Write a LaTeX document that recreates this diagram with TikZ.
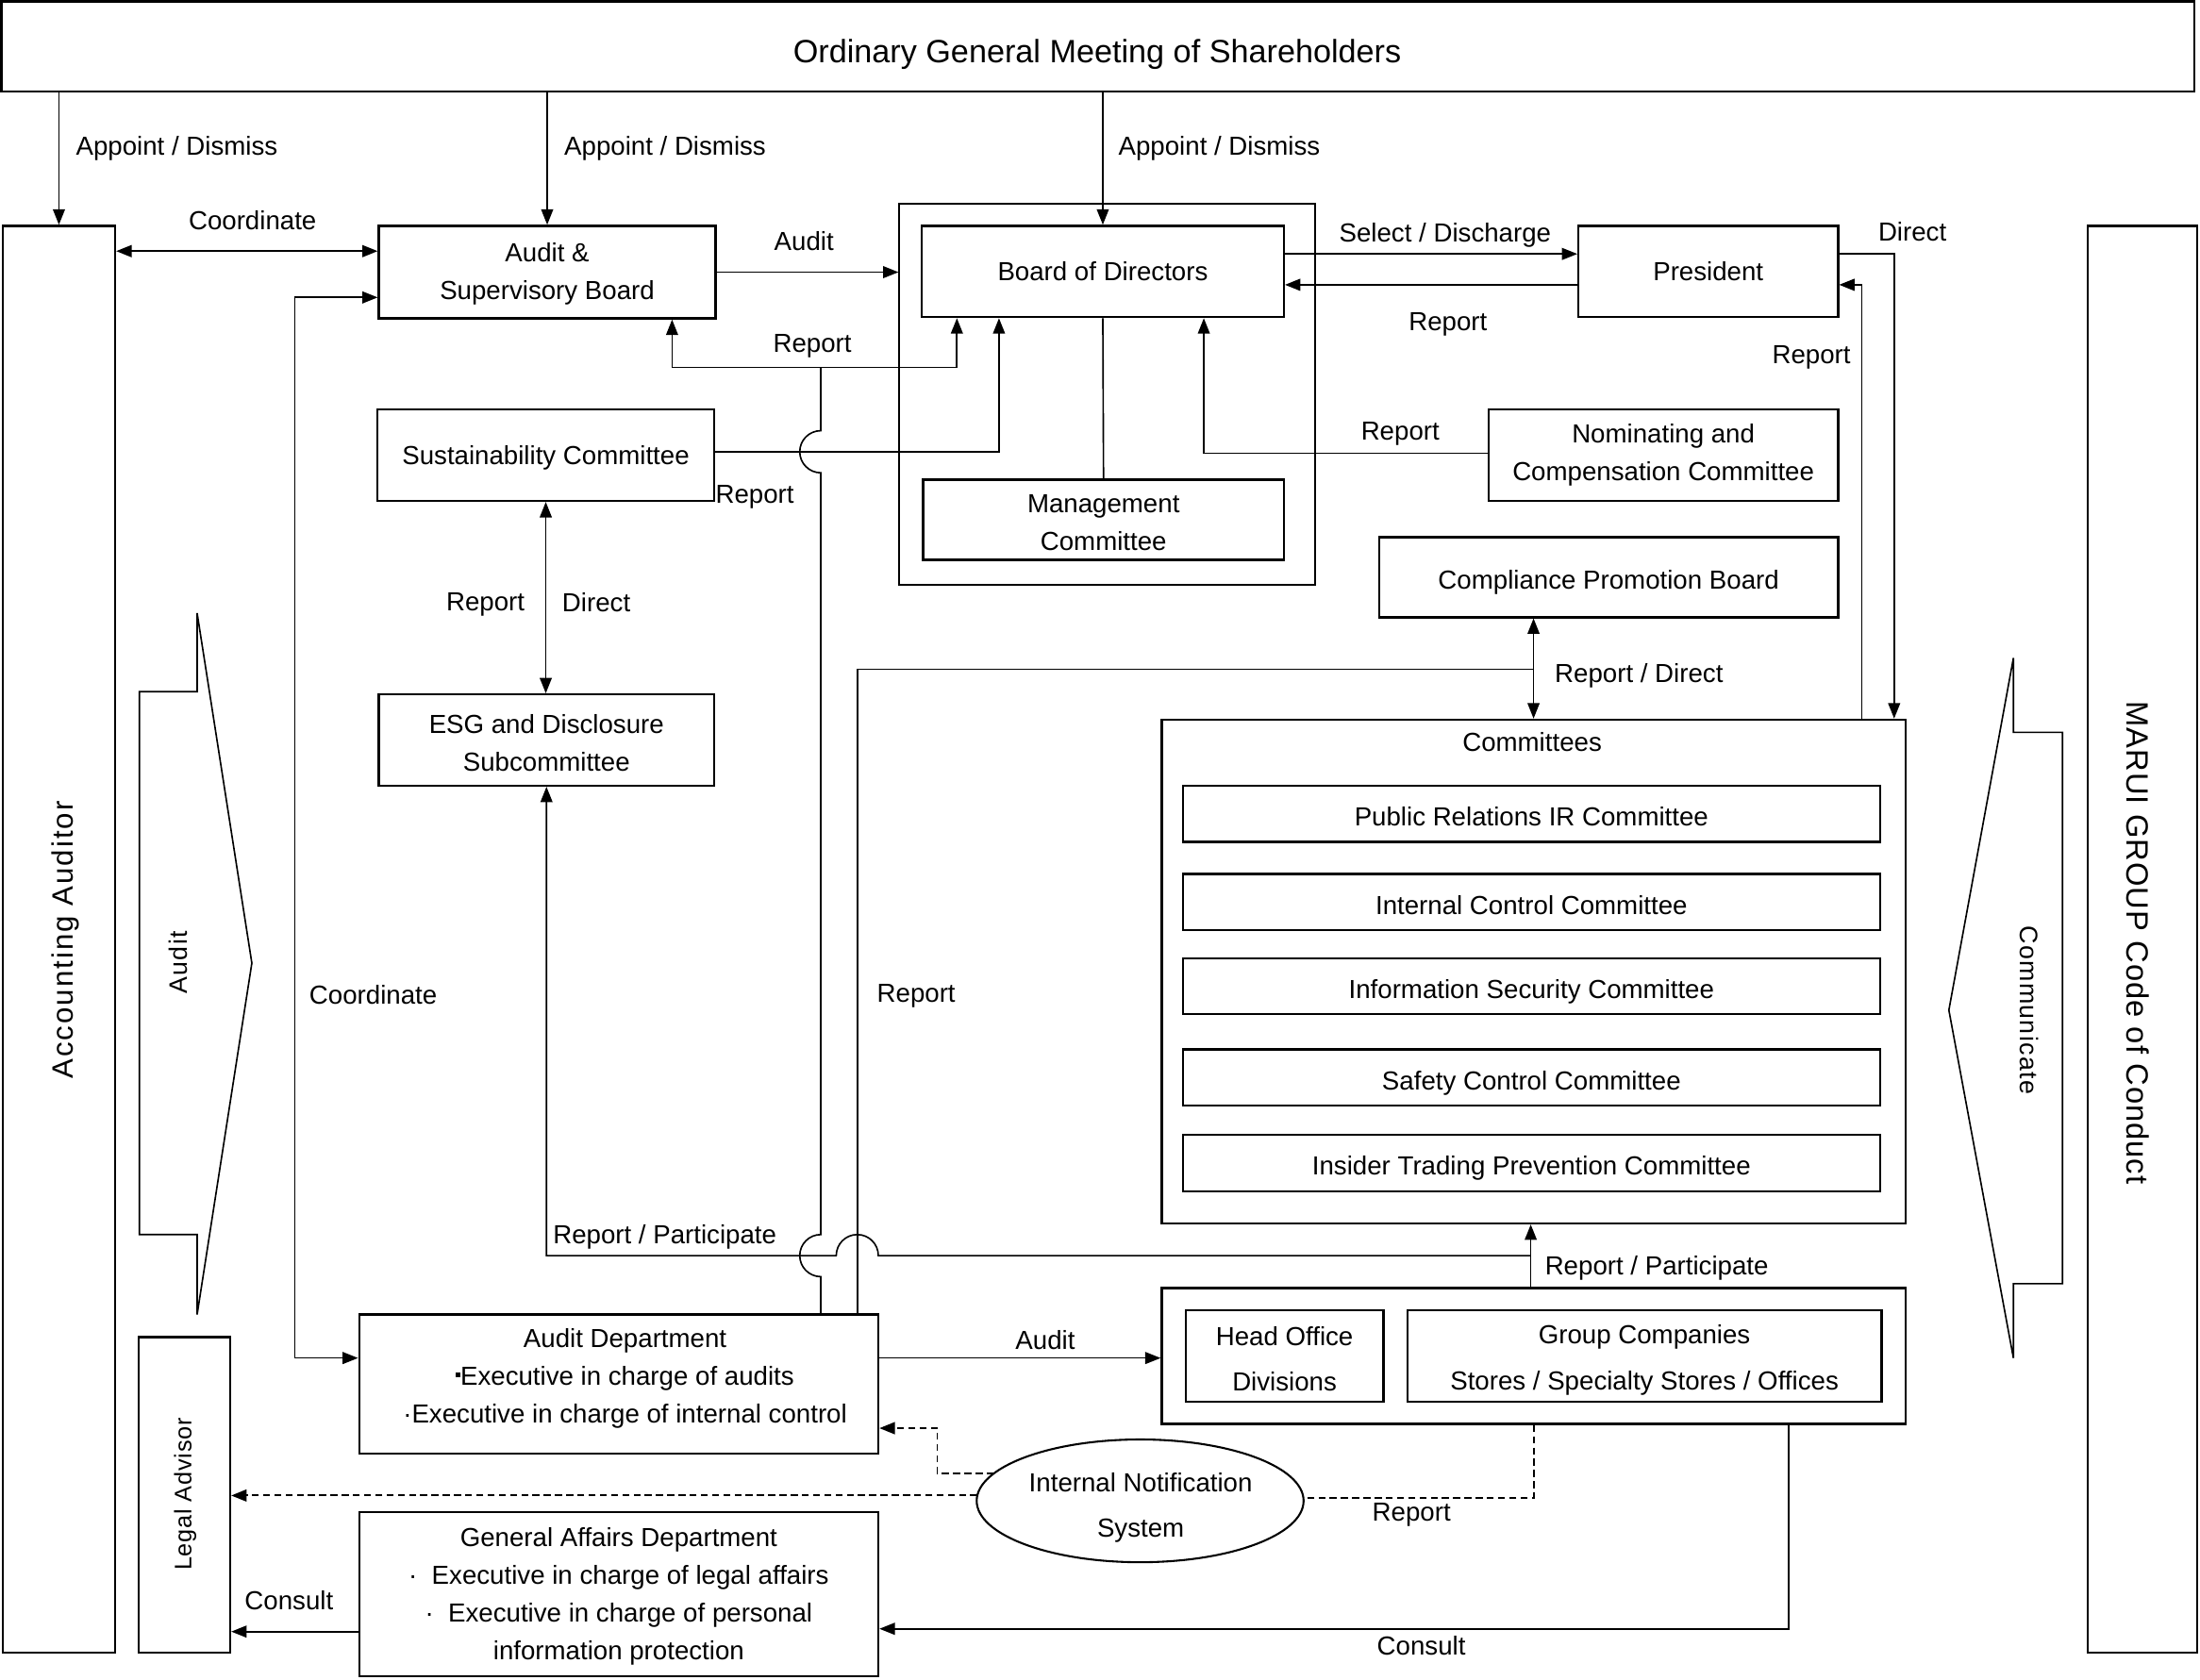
\documentclass[tikz,border=0pt]{standalone}
\usepackage{fontspec}
\setmainfont{Liberation Sans}
\newfontfamily\lsA[LetterSpace=6.4]{Liberation Sans}
\newfontfamily\lsB[LetterSpace=3.2]{Liberation Sans}
\newfontfamily\lsC[LetterSpace=5]{Liberation Sans}
\usetikzlibrary{arrows.meta,shapes.geometric,calc}
\newcommand\fn{\fontsize{18.6pt}{27pt}\selectfont}
\newcommand\fnw{\fontsize{18.6pt}{32.5pt}\selectfont}
\newcommand\sqb{\raisebox{0.3em}{\rule{0.17em}{0.17em}}}
\begin{document}
\begin{tikzpicture}[x=1pt,y=-1pt,
  >={Triangle[length=11pt,width=8.5pt]},
  box/.style={draw,line width=1.6pt,inner sep=0pt,align=center,font=\fn},
  lbl/.style={inner sep=0pt,font=\fn,text depth=0pt},
  mlbl/.style={inner sep=0pt,font=\fn,align=center},
  low/.style={text height=17.4pt,text depth=0pt},
  ln/.style={line width=1.1pt},
  dsh/.style={line width=1.3pt,dash pattern=on 5pt off 3pt},
  rot/.style={inner sep=0pt}
]
\useasboundingbox (0,0) rectangle (1568,1197);

% ---------- boxes ----------
\node[box,line width=1.4pt,minimum width=1563pt,minimum height=64pt] (gm) at (782.5,33) {};
\node[lbl,font=\fontsize{23pt}{27pt}\selectfont] (gmt) at (782,36.5) {Ordinary General Meeting of Shareholders};
\node[box,minimum width=80pt,minimum height=1017pt] (aa) at (42,669.5) {};
\node[rot,rotate=90,font=\lsA\fontsize{21pt}{21pt}\selectfont] (aat) at (47,670) {Accounting Auditor};
\node[box,minimum width=78pt,minimum height=1017pt] (mg) at (1527,669.5) {};
\node[rot,rotate=-90,font=\lsB\fontsize{22pt}{22pt}\selectfont] (mgt) at (1524,672) {MARUI GROUP Code of Conduct};

\node[box,minimum width=240pt,minimum height=66pt] (asb) at (390,194) {};
\node[mlbl] (asbt) at (390,195.5) {Audit \&\\Supervisory Board};
\node[box,line width=1.3pt,minimum width=296pt,minimum height=272pt] (bof) at (789,281) {};
\node[box,minimum width=258pt,minimum height=65pt] (bod) at (786,193.5) {Board of Directors};
\node[box,minimum width=257pt,minimum height=57pt] (mc) at (786.5,370.5) {};
\node[mlbl] (mct) at (786.5,372.5) {Management\\Committee};
\node[box,minimum width=185pt,minimum height=65pt] (pres) at (1217.5,193.5) {President};
\node[box,minimum width=240pt,minimum height=65pt,text depth=0pt] (sust) at (389,324.5) {Sustainability Committee};
\node[box,minimum width=249pt,minimum height=65pt] (nom) at (1185.5,324.5) {Nominating and\\Compensation Committee};
\node[box,low,minimum width=327pt,minimum height=57pt] (cpb) at (1146.5,411.5) {Compliance Promotion Board};
\node[box,minimum width=239pt,minimum height=65pt] (esg) at (389.5,527.5) {};
\node[mlbl] (esgt) at (389.5,529.5) {ESG and Disclosure\\Subcommittee};

\node[box,minimum width=530pt,minimum height=359pt] (com) at (1093,692.5) {};
\node[lbl] (comt) at (1092,529) {Committees};
\node[box,low,minimum width=497pt,minimum height=40pt] (c1) at (1091.5,580) {Public Relations IR Committee};
\node[box,low,minimum width=497pt,minimum height=40pt] (c2) at (1091.5,643) {Internal Control Committee};
\node[box,low,minimum width=497pt,minimum height=40pt] (c3) at (1091.5,703) {Information Security Committee};
\node[box,low,minimum width=497pt,minimum height=40pt] (c4) at (1091.5,768) {Safety Control Committee};
\node[box,low,minimum width=497pt,minimum height=40pt] (c5) at (1091.5,829) {Insider Trading Prevention Committee};

\node[box,minimum width=370pt,minimum height=99pt] (ad) at (441,986.5) {};
\node[mlbl] (adt) at (445.5,982.5) {Audit Department\\\sqb Executive in charge of audits\\·Executive in charge of internal control};

\node[box,minimum width=530pt,minimum height=97pt] (hob) at (1093,966.5) {};
\node[box,minimum width=141pt,minimum height=65pt] (ho) at (915.5,966.5) {};
\node[mlbl,font=\fnw] (hot) at (915.5,968.5) {Head Office\\Divisions};
\node[box,minimum width=338pt,minimum height=65pt] (gc) at (1172,966.5) {};
\node[mlbl,font=\fnw] (gct) at (1172,969.5) {Group Companies\\Stores / Specialty Stores / Offices};

\node[draw,ellipse,line width=1.4pt,minimum width=233pt,minimum height=87.5pt,inner sep=0pt] (ins) at (812.6,1069.8) {};
\node[mlbl,font=\fnw] (inst) at (813,1074.5) {Internal Notification\\System};

\node[box,minimum width=65pt,minimum height=225pt] (la) at (131.5,1065.5) {};
\node[rot,rotate=90,font=\lsB\fontsize{17pt}{17pt}\selectfont] (lat) at (132,1065) {Legal Advisor};

\node[box,minimum width=370pt,minimum height=117pt] (ga) at (441,1136.5) {};
\node[mlbl] (gat) at (441,1138) {General Affairs Department\\·\ \ Executive in charge of legal affairs\\·\ \ Executive in charge of personal\\information protection};

% ---------- big arrow shapes ----------
\draw[ln] (140.5,437) -- (179.5,686.5) -- (140.5,937) -- (140.5,880) -- (99.3,880) -- (99.3,493) -- (140.5,493) -- cycle;
\node[rot,rotate=90,font=\lsC\fontsize{18pt}{18pt}\selectfont] (audt) at (127,686) {Audit};
\draw[ln] (1435,469) -- (1389,720) -- (1435,968) -- (1435,915) -- (1470,915) -- (1470,522) -- (1435,522) -- cycle;
\node[rot,rotate=-90,font=\lsC\fontsize{18pt}{18pt}\selectfont] (comm) at (1446,720) {Communicate};

% ---------- connectors ----------
\draw[ln,->] (gm.south -| aa.north) -- (aa.north);
\draw[ln,->] (gm.south -| asb.north) -- (asb.north);
\draw[ln,->] (gm.south -| bod.north) -- (bod.north);

\coordinate (yco) at (0,179);
\draw[ln,<->] (aa.east |- yco) -- (asb.west |- yco);
\draw[ln,->] (asb.east) -- (bof.west |- asb.east);

\coordinate (ysd) at (0,181);
\draw[ln,->] (bod.east |- ysd) -- (pres.west |- ysd);
\coordinate (ybr) at (0,203);
\draw[ln,->] (pres.west |- ybr) -- (bod.east |- ybr);

\coordinate (dirc) at (1350,181);
\draw[ln,->] (pres.east |- dirc) -- (dirc) -- (com.north -| dirc);
\coordinate (rpc2) at (1327,203);
\draw[ln,->] (com.north -| rpc2) -- (rpc2) -- (pres.east |- rpc2);

\coordinate (nmc) at (858,323);
\draw[ln,->] (nom.west |- nmc) -- (nmc) -- (bod.south -| nmc);
\draw[ln] (bod.south) -- (mc.north);

\coordinate (snc) at (712,322);
\draw[ln,->] (sust.east |- snc) -- (snc) -- (bod.south -| snc);
\draw[ln,<->] (sust.south) -- (esg.north -| sust.south);

\coordinate (rpA) at (585,262);
\coordinate (rpL) at (479,262);
\coordinate (rpR) at (682,262);
\coordinate (jA) at (585,895);
\coordinate (jB) at (585,322);
\draw[ln] (ad.north -| rpA) -- ($(jA)+(0,15)$) arc[start angle=90,end angle=270,radius=15]
  -- ($(jB)+(0,15)$) arc[start angle=90,end angle=270,radius=15] -- (rpA);
\draw[ln,->] (rpA) -| (asb.south -| rpL);
\draw[ln,->] (rpA) -| (bod.south -| rpR);

\coordinate (rqA) at (611,477);
\coordinate (rqB) at (1093,477);
\draw[ln] (ad.north -| rqA) -- (rqA) -- (rqB);
\draw[ln,<->] (cpb.south -| com.north) -- (com.north);

\coordinate (rpj) at (1091,895);
\coordinate (jC) at (611,895);
\coordinate (rpe) at (389.5,895);
\draw[ln,->] (hob.north -| rpj) -- (com.south -| rpj);
\draw[ln,->] (rpj) -- ($(jC)+(15,0)$) arc[start angle=0,end angle=-180,radius=15] -- (rpe) -- (esg.south);

\coordinate (cdA) at (210,968);
\coordinate (cdB) at (210,212);
\draw[ln,<->] (ad.west |- cdA) -- (cdA) -- (cdB) -- (asb.west |- cdB);
\coordinate (yau) at (0,968);
\draw[ln,->] (ad.east |- yau) -- (hob.west |- yau);

\coordinate (dA) at (668,1050);
\coordinate (dB) at (668,1018);
\draw[dsh,->] (dA -| ins.169) -- (dA) -- (dB) -- (ad.east |- dB);
\coordinate (yla) at (0,1066);
\draw[dsh,->] (yla -| ins.177) -- (la.east |- yla);
\coordinate (ydr) at (0,1067.5);
\draw[dsh] (hob.south) -- (hob.south |- ydr) -- (ydr -| ins.east);

\coordinate (csA) at (1275,1161);
\draw[ln,->] (hob.south -| csA) -- (csA) -- (ga.east |- csA);
\coordinate (ycl) at (0,1163);
\draw[ln,->] (ga.west |- ycl) -- (la.east |- ycl);

% ---------- labels ----------
\node[lbl,anchor=west] (l1) at (54,104) {Appoint / Dismiss};
\node[lbl,anchor=west] (l2) at (402,104) {Appoint / Dismiss};
\node[lbl,anchor=west] (l3) at (797,104) {Appoint / Dismiss};
\node[lbl] (l4) at (180,157) {Coordinate};
\node[lbl] (l5) at (573,172) {Audit};
\node[lbl] (l6) at (579,245) {Report};
\node[lbl] (l7) at (1030,166) {Select / Discharge};
\node[lbl] (l8) at (1032,229) {Report};
\node[lbl] (l9) at (1363,165) {Direct};
\node[lbl] (l10) at (1291,253) {Report};
\node[lbl] (l11) at (998,307) {Report};
\node[lbl] (l12) at (538,352) {Report};
\node[lbl] (l13) at (346,429) {Report};
\node[lbl] (l14) at (425,429) {Direct};
\node[lbl,anchor=west] (l15) at (1108,480) {Report / Direct};
\node[lbl] (l16) at (266,709) {Coordinate};
\node[lbl] (l17) at (653,708) {Report};
\node[lbl,anchor=west] (l18) at (394,880) {Report / Participate};
\node[lbl,anchor=west] (l19) at (1101,902) {Report / Participate};
\node[lbl] (l20) at (745,955) {Audit};
\node[lbl] (l21) at (1006,1078) {Report};
\node[lbl] (l22) at (1013,1173) {Consult};
\node[lbl] (l23) at (206,1141) {Consult};
\end{tikzpicture}
\end{document}
